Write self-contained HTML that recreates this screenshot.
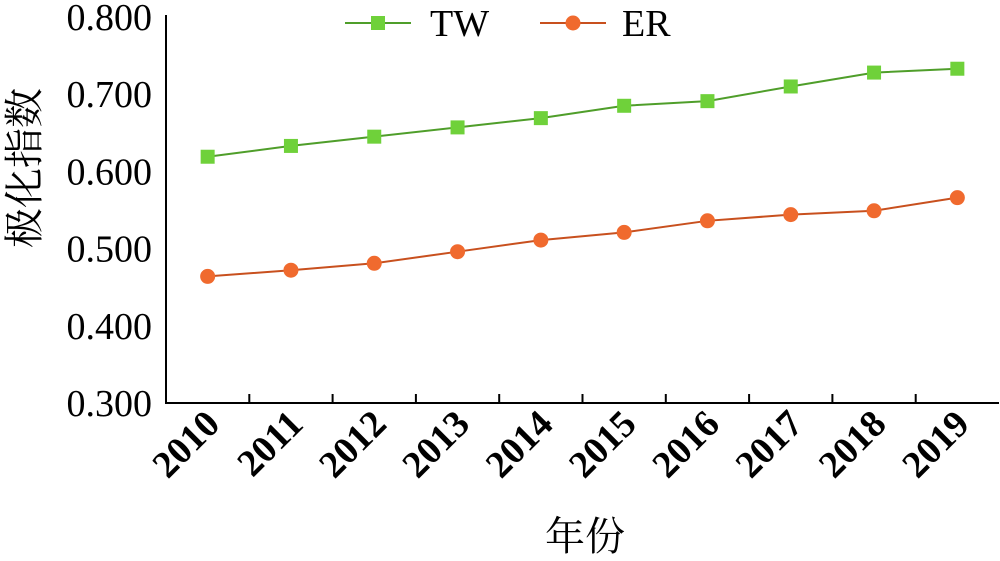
<!DOCTYPE html>
<html><head><meta charset="utf-8"><style>
body{margin:0;background:#fff}
svg text{font-family:"Liberation Serif","Noto Serif CJK SC",serif;fill:#000}
</style></head><body>
<svg id="chart" width="1000" height="556" xmlns="http://www.w3.org/2000/svg"></svg>
<script>
const years=["2010","2011","2012","2013","2014","2015","2016","2017","2018","2019"];
const twValues=[0.619,0.633,0.645,0.657,0.669,0.685,0.691,0.710,0.728,0.733];
const erValues=[0.464,0.472,0.481,0.496,0.511,0.521,0.536,0.544,0.549,0.566];
const yTicks=[0.3,0.4,0.5,0.6,0.7,0.8];
const yTickLabels=["0.300","0.400","0.500","0.600","0.700","0.800"];
const NS="http://www.w3.org/2000/svg";
const svg=document.getElementById('chart');
const L=166,R=999,T=17,B=403;
const band=(R-L)/years.length;
const x=i=>L+band*(i+0.5);
const y=v=>B-(v-0.3)/(0.5)*(B-T);
function mk(tag,attrs,parent){const e=document.createElementNS(NS,tag);for(const k in attrs)e.setAttribute(k,attrs[k]);(parent||svg).appendChild(e);return e;}
let e;
e=mk('path',{d:`M${L} ${T-2}V${B}H${R}`,stroke:'#000','stroke-width':2,fill:'none'});


for(let i=1;i<years.length;i++){e=mk('line',{x1:L+band*i,x2:L+band*i,y1:B,y2:B-9,stroke:'#000','stroke-width':2});

}
yTicks.forEach((v,i)=>{e=mk('text',{x:152,y:y(v)+13,'text-anchor':'end','font-size':38});e.textContent=yTickLabels[i];

});
years.forEach((yr,i)=>{const cx=x(i)+14,cy=426;e=mk('text',{x:cx,y:cy,'text-anchor':'end','font-size':38,'font-weight':'bold',transform:`rotate(-45 ${cx} ${cy})`});e.textContent=yr;

});
function series(vals,color,shape,name){
 e=mk('polyline',{points:vals.map((v,i)=>x(i)+','+y(v)).join(' '),fill:'none',stroke:color,'stroke-width':2});
 
 
 vals.forEach((v,i)=>{
  if(shape==='sq')e=mk('rect',{x:x(i)-7,y:y(v)-7,width:14,height:14,fill:'#6fd13a'});
  else e=mk('circle',{cx:x(i),cy:y(v),r:7.5,fill:'#f06a2e'});
  
  
 });
}
series(twValues,'#4f9e2a','sq','tw');
series(erValues,'#c8501e','ci','er');
e=mk('line',{x1:345,x2:411,y1:23,y2:23,stroke:'#4f9e2a','stroke-width':2});


e=mk('rect',{x:371,y:16,width:14,height:14,fill:'#6fd13a'});


e=mk('text',{x:430,y:36,'font-size':38});e.textContent='TW';


e=mk('line',{x1:540,x2:606,y1:23,y2:23,stroke:'#c8501e','stroke-width':2});


e=mk('circle',{cx:573,cy:23,r:7.5,fill:'#f06a2e'});


e=mk('text',{x:622,y:36,'font-size':38});e.textContent='ER';


e=mk('text',{x:0,y:0,'font-size':40,'text-anchor':'middle',transform:'translate(38 168) rotate(-90)'});e.textContent='极化指数';


e=mk('text',{x:585,y:550,'font-size':40,'text-anchor':'middle'});e.textContent='年份';


</script>
</body></html>
